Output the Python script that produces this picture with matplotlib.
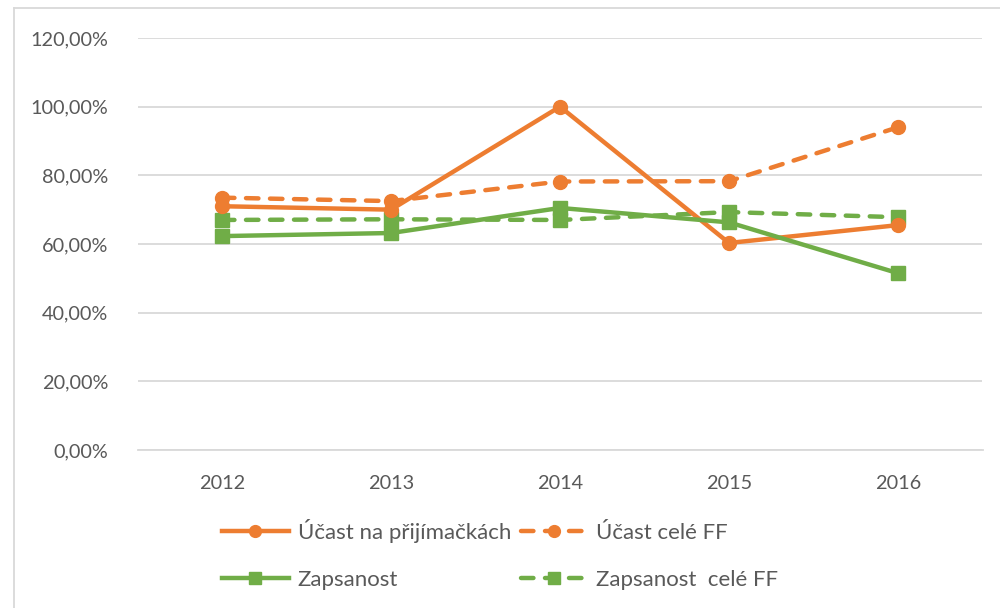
import matplotlib
matplotlib.use("Agg")
import matplotlib.pyplot as plt
from matplotlib.lines import Line2D
from matplotlib.ticker import FuncFormatter

plt.rcParams['font.family'] = ['Lato', 'DejaVu Sans']

years = ["2012", "2013", "2014", "2015", "2016"]
ucast_prijimacky = [71.0, 70.0, 100.0, 60.3, 65.5]
ucast_cele_ff = [73.5, 72.5, 78.2, 78.3, 94.0]
zapsanost = [62.3, 63.2, 70.5, 66.3, 51.5]
zapsanost_cele_ff = [67.0, 67.2, 67.0, 69.3, 67.8]
series_labels = ["Účast na přijímačkách", "Účast celé FF", "Zapsanost", "Zapsanost  celé FF"]
y_ticks = [0, 20, 40, 60, 80, 100, 120]

orange = "#ED7D31"
green = "#70AD47"
text_color = "#595959"
grid_color = "#D9D9D9"

fig = plt.figure(figsize=(10, 6.08), dpi=100)
ax = fig.add_axes([0.1375, 1 - 450 / 608, 0.845, 412 / 608])

x = list(range(len(years)))
lw = 3.2
ms = 10
dash = (0, (2.8, 2.6))
h1, = ax.plot(x, ucast_prijimacky, color=orange, lw=lw, marker='o', ms=ms, label=series_labels[0], zorder=4)
h2, = ax.plot(x, ucast_cele_ff, color=orange, lw=lw, ls=dash, dash_capstyle='round',
              marker='o', ms=ms, label=series_labels[1], zorder=3)
h3, = ax.plot(x, zapsanost, color=green, lw=lw, marker='s', ms=ms, label=series_labels[2], zorder=4)
h4, = ax.plot(x, zapsanost_cele_ff, color=green, lw=lw, ls=dash, dash_capstyle='round',
              marker='s', ms=ms, label=series_labels[3], zorder=3)

ax.set_xlim(-0.5, len(years) - 0.5)
ax.set_ylim(0, 120)
ax.set_yticks(y_ticks)
ax.yaxis.set_major_formatter(FuncFormatter(lambda v, p: f"{v:.2f}".replace('.', ',') + "%"))
ax.set_xticks(x)
ax.set_xticklabels(years)
ax.tick_params(axis='both', length=0, labelsize=14.3, colors=text_color)
ax.tick_params(axis='y', pad=21)
ax.tick_params(axis='x', pad=18)
ax.grid(axis='y', color=grid_color, lw=1.3)
ax.set_axisbelow(True)
for s in ['top', 'right', 'left']:
    ax.spines[s].set_visible(False)
ax.spines['bottom'].set_color(grid_color)
ax.spines['bottom'].set_linewidth(1.3)

# column-major fill: col1 = h1, h3 ; col2 = h2, h4
leg = fig.legend([h1, h3, h2, h4], [series_labels[0], series_labels[2], series_labels[1], series_labels[3]],
                 loc='upper left', bbox_to_anchor=(222 / 1000, 1 - 519 / 608), ncol=2, frameon=False,
                 fontsize=16, handlelength=3.0, handletextpad=0.4, columnspacing=0.45,
                 labelspacing=1.2, borderpad=0, borderaxespad=0, markerscale=0.85)
for t in leg.get_texts():
    t.set_color(text_color)

# chart border (top and left visible)
fig.add_artist(Line2D([14 / 1000, 1.0], [1 - 8 / 608, 1 - 8 / 608], color=grid_color, lw=1.3))
fig.add_artist(Line2D([14 / 1000, 14 / 1000], [0, 1 - 8 / 608], color=grid_color, lw=1.3))

fig.savefig("out.png", dpi=100)
